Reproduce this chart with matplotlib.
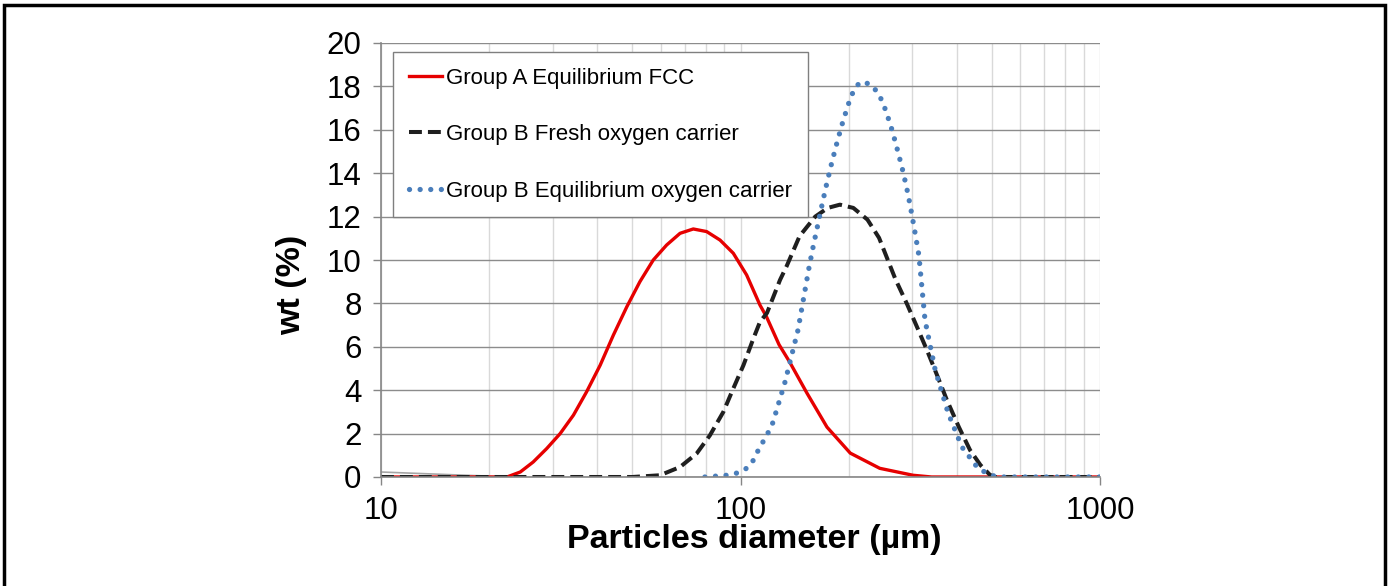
import numpy as np
import matplotlib
matplotlib.use("Agg")
import matplotlib.pyplot as plt
from matplotlib.patches import Rectangle

plt.rcParams['font.family'] = ['Liberation Sans', 'DejaVu Sans']

# Group A Equilibrium FCC
red_d = [10, 15, 20, 22.4, 24.4, 26.5, 28.9, 31.5, 34.3, 37.3, 40.7, 44.3, 48.3, 52.5, 57.2, 62.3,
         67.9, 73.9, 80.5, 87.7, 95.5, 104, 113.3, 118, 128, 137, 153, 174, 202, 244, 302, 340,
         500, 1000]
red_v = [0, 0, 0, 0, 0.23, 0.69, 1.31, 2.0, 2.85, 3.92, 5.15, 6.54, 7.85, 9.0, 10.0, 10.69,
         11.23, 11.43, 11.31, 10.92, 10.31, 9.31, 7.92, 7.4, 6.1, 5.3, 3.87, 2.3, 1.1, 0.4, 0.08, 0,
         0, 0]

# Group B Fresh oxygen carrier
blk_d = [10, 50, 59.7, 67.9, 75.5, 82.2, 89.6, 95.5, 101.9, 108.6, 113.3, 118.5, 128.8, 134.5,
         146, 161.4, 174.9, 189, 206, 225.5, 242.9, 258.6, 270, 290, 310, 330, 352, 375, 405,
         435, 465, 494, 510, 1000]
blk_v = [0, 0, 0.08, 0.46, 1.08, 1.92, 3.0, 4.08, 5.15, 6.38, 7.15, 7.56, 9.08, 9.73,
         11.1, 12.0, 12.4, 12.55, 12.4, 11.86, 11.02, 9.88, 9.1, 8.0, 6.9, 5.85, 4.7, 3.55, 2.3,
         1.24, 0.55, 0.1, 0, 0]

# Group B Equilibrium oxygen carrier
blu_d = [79.6, 91.5, 97.6, 103.5, 108.6, 112, 119, 123, 133, 144.5, 155.4, 159.6, 164.1, 169.0,
         174.0, 179.7, 186.0, 192.9, 201.2, 206.6, 214.9, 228.5, 239.6, 247.7, 253.7, 259.2,
         264.5, 274.1, 283.4, 292.0, 299.3, 306.4, 313.5, 326, 348, 378, 413, 458, 494, 520, 1000]
blu_v = [0, 0.08, 0.18, 0.38, 0.77, 1.23, 2.0, 2.5, 4.38, 6.77, 9.73, 10.69, 11.63, 12.63,
         13.57, 14.53, 15.48, 16.41, 17.36, 17.82, 18.2, 18.12, 17.77, 17.33, 16.87, 16.40,
         15.94, 14.99, 14.05, 13.08, 12.14, 11.18, 10.21, 7.23, 4.93, 2.95, 1.38, 0.4, 0.1, 0, 0]

# faint unlabeled series near the left edge
gry_d = [10, 23]
gry_v = [0.23, 0]

labels = ["Group A Equilibrium FCC", "Group B Fresh oxygen carrier",
          "Group B Equilibrium oxygen carrier"]

fig = plt.figure(figsize=(13.88, 5.86), dpi=100)
ax = fig.add_axes([381/1388, 109/586, 719/1388, 434/586])

ax.plot(gry_d, gry_v, color='#a6a6a6', lw=1.2)
ax.plot(red_d, red_v, color='#e60000', lw=2.4, label=labels[0])
ax.plot(blk_d, blk_v, color='#1f1f1f', lw=2.9, dashes=(3.2, 1.5), label=labels[1])
ax.plot(blu_d, blu_v, color='#4a7ebb', lw=3.8, dashes=(0.01, 2.0),
        dash_capstyle='round', label=labels[2])

ax.set_xscale('log')
ax.set_xlim(10, 1000)
ax.set_ylim(0, 20)
ax.set_yticks(np.arange(0, 21, 2))
ax.xaxis.set_major_formatter(matplotlib.ticker.FormatStrFormatter('%d'))
ax.xaxis.set_minor_formatter(matplotlib.ticker.NullFormatter())

ax.grid(True, axis='x', which='both', color='#d9d9d9', lw=1.0)
ax.grid(True, axis='y', which='major', color='#8c8c8c', lw=1.0)
ax.set_axisbelow(True)

for s in ['top', 'right']:
    ax.spines[s].set_visible(False)
for s in ['left', 'bottom']:
    ax.spines[s].set_color('#868686')
    ax.spines[s].set_linewidth(1.2)

ax.tick_params(axis='both', which='major', direction='out', length=6, width=1,
               color='#868686', labelsize=22.5, pad=8)
ax.tick_params(axis='x', which='minor', length=0)

ax.set_xlabel("Particles diameter (µm)", fontsize=24.5, fontweight='bold')
ax.set_ylabel("wt (%)", fontsize=24.5, fontweight='bold')
ax.xaxis.set_label_coords(0.519, -0.108)
ax.yaxis.set_label_coords(-0.103, 0.442)

leg = ax.legend(loc='upper left', bbox_to_anchor=(0.0167, 0.979), borderaxespad=0,
                fontsize=16, frameon=True, fancybox=False, handlelength=1.5,
                handletextpad=0.2, labelspacing=1.6, borderpad=0.7)
leg.get_frame().set_edgecolor('#7f7f7f')
leg.get_frame().set_linewidth(1.0)
leg.get_frame().set_alpha(1)

fig.patches.append(Rectangle((4/1388, -0.05), 1381/1388, 1.05 - 5/586,
                             transform=fig.transFigure, fill=False,
                             edgecolor='black', lw=2.5))

fig.savefig("out.png", dpi=100)
